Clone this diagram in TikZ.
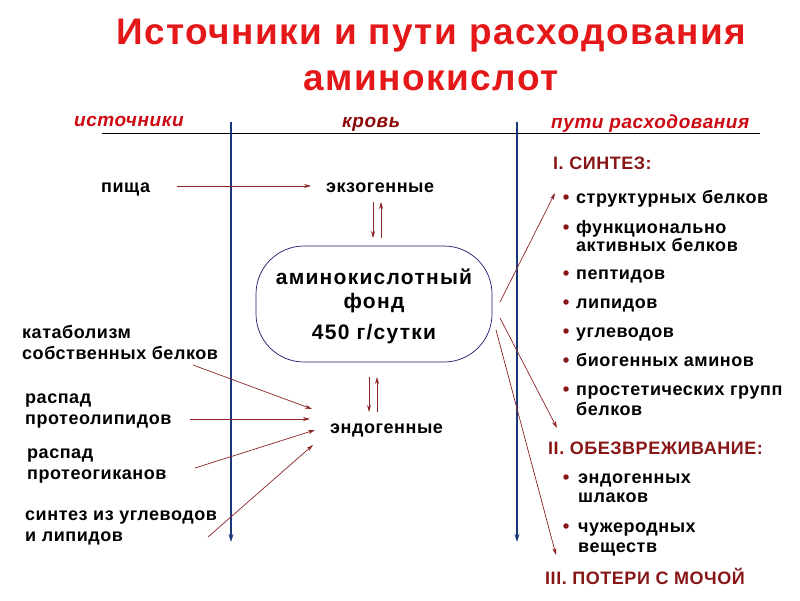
\documentclass[tikz,border=0pt]{standalone}
\usepackage{fontspec}
\setmainfont{Liberation Sans}
\newfontfamily\bodyf[LetterSpace=3]{Liberation Sans}
\newfontfamily\fundf[LetterSpace=6]{Liberation Sans}
\newfontfamily\titlef[LetterSpace=4]{Liberation Sans}
\newfontfamily\hdrf[LetterSpace=3]{Liberation Sans}
\usetikzlibrary{arrows.meta,calc}
\definecolor{titlered}{RGB}{228,24,24}
\definecolor{headred}{RGB}{205,10,20}
\definecolor{headdark}{RGB}{140,10,10}
\definecolor{secred}{RGB}{135,22,22}
\definecolor{arrred}{RGB}{140,35,35}
\definecolor{navyline}{RGB}{25,55,120}
\definecolor{boxnavy}{RGB}{25,25,110}
\begin{document}
\begin{tikzpicture}[x=1pt,y=-1pt,
  lbl/.style={font=\bodyf\bfseries\fontsize{18}{21}\selectfont, inner sep=0, anchor=mid west, yshift=-4pt},
  hdr/.style={font=\hdrf\bfseries\itshape\fontsize{19}{22}\selectfont, inner sep=0, anchor=mid west, yshift=-4pt},
  sec/.style={font=\bodyf\bfseries\fontsize{18}{21}\selectfont, text=secred, inner sep=0, anchor=mid west, yshift=-2pt},
  arr/.style={draw=arrred, line width=0.7pt, -{Stealth[length=7pt,width=4pt]}},
  bline/.style={draw=navyline, line width=1.6pt, -{Stealth[length=8pt,width=5pt]}},
  bul/.style={circle, fill=secred, inner sep=0, minimum size=5.5pt}]
\useasboundingbox (0,0) rectangle (800,600);

% title
\node[font=\titlef\bfseries\fontsize{37}{46}\selectfont, text=titlered, align=center] (title) at (431,55) {Источники и пути расходования\\аминокислот};

% headers
\node[hdr, text=headred] (hsrc) at (74,120) {источники};
\node[hdr, text=headdark] (hblood) at (342,121) {кровь};
\node[hdr, text=headred] (hways) at (551,122) {пути расходования};
\coordinate (hl1) at (102,133);
\coordinate (hl2) at (760,133);
\draw[line width=1pt] (hl1) -- (hl2);

% blue lines
\coordinate (b1t) at (231,122); \coordinate (b1b) at (231,542);
\coordinate (b2t) at (517,122); \coordinate (b2b) at (517,542);
\draw[bline] (b1t) -- (b1b);
\draw[bline] (b2t) -- (b2b);

% left labels
\node[lbl] (pisha) at (101,186) {пища};
\node[lbl] (kat1) at (22,332) {катаболизм};
\node[lbl] (kat2) at (22,353) {собственных белков};
\node[lbl] (rp1) at (25,397) {распад};
\node[lbl] (rp2) at (25,418) {протеолипидов};
\node[lbl] (rg1) at (27,452) {распад};
\node[lbl] (rg2) at (27,473) {протеогиканов};
\node[lbl] (su1) at (25,514) {синтез из углеводов};
\node[lbl] (su2) at (25,535) {и липидов};

% blood
\node[lbl] (exo) at (326,186) {экзогенные};
\node[lbl] (endo) at (330,427) {эндогенные};
\node[draw=boxnavy, line width=0.7pt, rounded corners=48pt, minimum width=236pt, minimum height=116pt, inner sep=0] (fund) at (374,304) {};
\node[font=\fundf\bfseries\fontsize{21}{24}\selectfont, align=center, inner sep=0] (fundtxt) at (374,306)
      {аминокислотный\\фонд\\[7pt]450 г/сутки};

% right list
\node[sec] (s1) at (553,165) {I. СИНТЕЗ:};
\node[bul] (d1) at (566,197) {}; \node[lbl] (t1) at (576,197) {структурных белков};
\node[bul] (d2) at (566,227) {}; \node[lbl] (t2a) at (576,227) {функционально};
\node[lbl] (t2b) at (576,245) {активных белков};
\node[bul] (d3) at (566,273) {}; \node[lbl] (t3) at (576,273) {пептидов};
\node[bul] (d4) at (566,302) {}; \node[lbl] (t4) at (576,302) {липидов};
\node[bul] (d5) at (566,331) {}; \node[lbl] (t5) at (576,331) {углеводов};
\node[bul] (d6) at (566,360) {}; \node[lbl] (t6) at (576,360) {биогенных аминов};
\node[bul] (d7) at (566,389) {}; \node[lbl] (t7a) at (576,389) {простетических групп};
\node[lbl] (t7b) at (576,409) {белков};
\node[sec] (s2) at (548,450) {II. ОБЕЗВРЕЖИВАНИЕ:};
\node[bul] (e1) at (566,477) {}; \node[lbl] (u1a) at (578,477) {эндогенных};
\node[lbl] (u1b) at (578,496) {шлаков};
\node[bul] (e2) at (566,526) {}; \node[lbl] (u2a) at (578,526) {чужеродных};
\node[lbl] (u2b) at (578,546) {веществ};
\node[sec] (s3) at (545,580) {III. ПОТЕРИ С МОЧОЙ};

% connectors
\coordinate (pa0) at (177,186);
\coordinate (pe0) at (311,186);
\draw[arr] (pa0) -- (pe0);
\coordinate (x1) at (373,202); \coordinate (x2) at (373,238);
\coordinate (x3) at (381,238); \coordinate (x4) at (381,202);
\draw[arr] (x1) -- (x2);
\draw[arr] (x3) -- (x4);
\coordinate (y1) at (369,377); \coordinate (y2) at (369,412);
\coordinate (y3) at (377,412); \coordinate (y4) at (377,377);
\draw[arr] (y1) -- (y2);
\draw[arr] (y3) -- (y4);

\coordinate (ka) at (193,365);
\coordinate (pa) at (190,419);
\coordinate (ga) at (195,468);
\coordinate (sa) at (208,537);
\coordinate (ke) at (312,409);
\coordinate (pe) at (310,419);
\coordinate (ge) at (315,430);
\coordinate (se) at (313,445);
\draw[arr] (ka) -- (ke);
\draw[arr] (pa) -- (pe);
\draw[arr] (ga) -- (ge);
\draw[arr] (sa) -- (se);

\coordinate (f1) at (500,302);
\coordinate (f2) at (500,318);
\coordinate (f3) at (496,330);
\coordinate (r1) at (555,193);
\coordinate (r2) at (557,428);
\coordinate (r3) at (556,555);
\draw[arr] (f1) -- (r1);
\draw[arr] (f2) -- (r2);
\draw[arr] (f3) -- (r3);
\end{tikzpicture}
\end{document}
